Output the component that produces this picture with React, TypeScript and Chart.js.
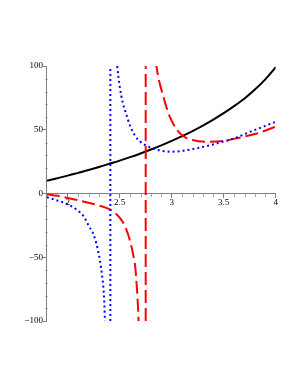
import React, { useEffect, useRef } from 'react';
import { Chart, registerables } from 'chart.js';

Chart.register(...registerables);

// Black solid curve
const blackX = [1.8, 1.9, 2.0, 2.1, 2.2, 2.3, 2.4, 2.5, 2.6, 2.7, 2.8, 2.9, 3.0, 3.1, 3.2, 3.3, 3.4, 3.5, 3.6, 3.7, 3.8, 3.9, 4.0];
const blackY = [10, 12, 14, 16.2, 18.4, 20.8, 23.3, 25.8, 28.5, 31.4, 34.5, 37.8, 41.3, 45, 49, 53.3, 58, 63, 68.5, 74.5, 81.5, 89.5, 99];

// Blue dotted curve (two branches + asymptote join)
const blueLeftX = [1.8, 1.9, 2.0, 2.1, 2.15, 2.2, 2.25, 2.3, 2.32, 2.34, 2.35, 2.36];
const blueLeftY = [-3, -5.5, -8.5, -13.5, -17.5, -25, -32.5, -48, -58, -71, -82, -105];
const blueAsymX = [2.41, 2.41];
const blueAsymY = [-100, 100];
const blueRightX = [2.472, 2.476, 2.5, 2.53, 2.56, 2.6, 2.65, 2.7, 2.76, 2.86, 2.98, 3.08, 3.18, 3.35, 3.5, 3.6, 3.75, 3.9, 4.0];
const blueRightY = [104, 100, 84, 71, 63, 53, 45, 40.5, 37.3, 34.3, 32.8, 33.2, 34.5, 37.5, 40.8, 43.2, 48.3, 53, 56.3];

// Red dashed curve (two branches + asymptote join)
const redLeftX = [1.8, 1.9, 2.0, 2.1, 2.2, 2.3, 2.4, 2.45, 2.5, 2.55, 2.58, 2.6, 2.63, 2.65, 2.66, 2.67, 2.68, 2.686];
const redLeftY = [-0.5, -1.8, -3.5, -5.3, -7.3, -9.4, -12.3, -15, -19, -25.5, -32, -37.5, -48, -58, -68, -80, -96, -108];
const redAsymX = [2.75, 2.75];
const redAsymY = [-100, 100];
const redRightX = [2.848, 2.857, 2.88, 2.92, 2.95, 2.98, 3.05, 3.11, 3.2, 3.34, 3.5, 3.66, 3.82, 4.0];
const redRightY = [103, 98, 88, 76, 67.5, 60.5, 50, 45, 42, 40.6, 41.3, 44, 47.1, 52.4];

const xTickLabels = [2, 2.5, 3, 3.5, 4];
const yTickLabels = [-100, -50, 0, 50, 100];

const AXIS = '#808080';
const FONT = { family: "'Liberation Serif', 'Times New Roman', serif", size: 9 };

function pairs(xs: number[], ys: number[]) {
  return xs.map((x, i) => ({ x, y: ys[i] }));
}
function isLabelled(v: number, list: number[]) {
  return list.some((t) => Math.abs(t - v) < 1e-6);
}
function fmt(v: number) {
  const r = Math.round(v * 10) / 10;
  return r < 0 ? '\u2212' + String(-r) : String(r);
}

export default function App() {
  const ref = useRef<HTMLCanvasElement>(null);
  useEffect(() => {
    const minorTicks = {
      id: 'minorTicks',
      afterDraw(chart: any) {
        const ctx = chart.ctx;
        const xs = chart.scales.x;
        const ys = chart.scales.y;
        const y0 = Math.round(ys.getPixelForValue(0)) + 0.5;
        const x0 = Math.round(xs.getPixelForValue(1.8)) + 0.5;
        ctx.save();
        ctx.strokeStyle = AXIS;
        ctx.lineWidth = 1;
        ctx.beginPath();
        xs.ticks.forEach((t: any) => {
          if (isLabelled(t.value, xTickLabels)) return;
          const px = Math.round(xs.getPixelForValue(t.value)) + 0.5;
          ctx.moveTo(px, y0);
          ctx.lineTo(px, y0 + 2);
        });
        ys.ticks.forEach((t: any) => {
          if (isLabelled(t.value, yTickLabels)) return;
          const py = Math.round(ys.getPixelForValue(t.value)) + 0.5;
          ctx.moveTo(x0 - 2, py);
          ctx.lineTo(x0, py);
        });
        ctx.stroke();
        ctx.restore();
      },
    };

    const blueStyle = {
      borderColor: '#0000ff',
      borderWidth: 2,
      borderDash: [2, 3],
      pointRadius: 0,
      fill: false,
    };
    const redStyle = {
      borderColor: '#ff0000',
      borderWidth: 2,
      borderDash: [13, 5],
      pointRadius: 0,
      fill: false,
    };

    const chart = new Chart(ref.current as HTMLCanvasElement, {
      type: 'line',
      data: {
        datasets: [
          { ...blueStyle, data: pairs(blueLeftX, blueLeftY), cubicInterpolationMode: 'monotone' },
          { ...blueStyle, data: pairs(blueAsymX, blueAsymY) },
          { ...blueStyle, data: pairs(blueRightX, blueRightY), cubicInterpolationMode: 'monotone' },
          { ...redStyle, data: pairs(redLeftX, redLeftY), cubicInterpolationMode: 'monotone' },
          { ...redStyle, data: pairs(redAsymX, redAsymY) },
          { ...redStyle, data: pairs(redRightX, redRightY), cubicInterpolationMode: 'monotone' },
          {
            data: pairs(blackX, blackY),
            borderColor: '#000000',
            borderWidth: 2,
            pointRadius: 0,
            fill: false,
            cubicInterpolationMode: 'monotone',
          },
        ] as any,
      },
      options: {
        responsive: false,
        animation: false,
        events: [],
        layout: { padding: { top: 66, bottom: 67, left: 0, right: 24.3 } },
        plugins: { legend: { display: false }, tooltip: { enabled: false } },
        elements: { point: { radius: 0 } },
        scales: {
          x: {
            type: 'linear',
            min: 1.8,
            max: 4,
            position: { y: 0 } as any,
            ticks: {
              stepSize: 0.1,
              autoSkip: false,
              maxRotation: 0,
              padding: 0,
              color: '#000',
              font: FONT,
              callback: (v: any) => (isLabelled(Number(v), xTickLabels) ? fmt(Number(v)) : ''),
            },
            grid: {
              drawOnChartArea: false,
              drawTicks: true,
              tickLength: 4,
              tickColor: (c: any) => (c.tick && isLabelled(c.tick.value, xTickLabels) ? AXIS : 'rgba(0,0,0,0)'),
            },
            border: { display: true, color: AXIS, width: 1 },
          },
          y: {
            type: 'linear',
            min: -100,
            max: 100,
            afterFit: (s: any) => {
              s.width = 46.9;
            },
            ticks: {
              stepSize: 10,
              autoSkip: false,
              padding: 0,
              color: '#000',
              font: FONT,
              callback: (v: any) => (isLabelled(Number(v), yTickLabels) ? fmt(Number(v)) : ''),
            },
            grid: {
              drawOnChartArea: false,
              drawTicks: true,
              tickLength: 4,
              tickColor: (c: any) => (c.tick && isLabelled(c.tick.value, yTickLabels) ? AXIS : 'rgba(0,0,0,0)'),
            },
            border: { display: true, color: AXIS, width: 1 },
          },
        },
      } as any,
      plugins: [minorTicks],
    });
    return () => chart.destroy();
  }, []);

  return (
    <div style={{ position: 'fixed', left: 0, top: 0, width: 300, height: 388, background: '#fff' }}>
      <canvas ref={ref} width={300} height={388} style={{ display: 'block', width: 300, height: 388 }} />
    </div>
  );
}
